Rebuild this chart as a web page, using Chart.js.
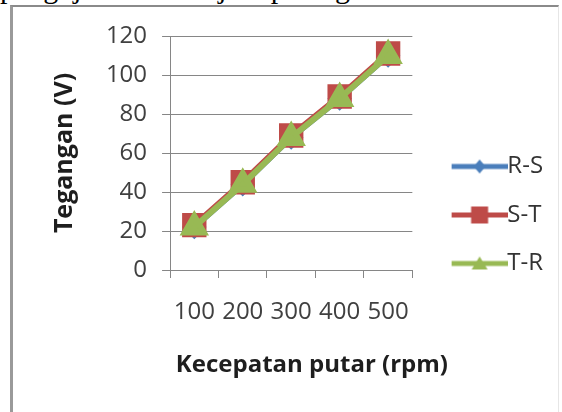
<!DOCTYPE html>
<html>
<head>
<meta charset="utf-8">
<script src="https://cdn.jsdelivr.net/npm/chart.js@4"></script>
<style>
  html, body { margin: 0; padding: 0; background: #fff; overflow: hidden; }
  #page { position: relative; width: 562px; height: 412px; overflow: hidden; }
  #textline { position: absolute; left: 0; top: -27px; font: 30px/30px "Liberation Serif", serif; white-space: nowrap; color: #000; }
  #frame { position: absolute; left: 10px; top: 5px; width: 545px; height: 420px;
           border-top: 2px solid #8a8a8a; border-left: 3px solid #9a9a9a; border-right: 1px solid #e6e6e6; }
  canvas { position: absolute; left: 0; top: 0; }
</style>
</head>
<body>
<div id="page">
  <div id="textline">pengujian terlihat jika pada grafik</div>
  <div id="frame"></div>
  <canvas id="grafik" width="562" height="420"></canvas>
</div>
<script>
// data
const rpm = ['100', '200', '300', '400', '500'];
const teganganRS = [22, 44, 68, 88, 110];
const teganganST = [23, 45, 69, 89, 111];
const teganganTR = [22, 44, 68, 88, 110];
const seriesNames = ['R-S', 'S-T', 'T-R'];

const yMin = 0, yMax = 120, yStep = 20;

const fontFamily = '"Open Sans", "Noto Sans", sans-serif';
const colors = ['#4a7ebb', '#be4b48', '#98b954'];
const markers = ['rectRot', 'rect', 'triangle'];

// gambar kecil untuk legend: garis + marker
function legendIcon(color, style) {
  const c = document.createElement('canvas');
  c.width = 83;
  c.height = 24;
  const g = c.getContext('2d');
  g.strokeStyle = color;
  g.fillStyle = color;
  g.lineWidth = 5;
  g.beginPath();
  g.moveTo(27, 12);
  g.lineTo(83, 12);
  g.stroke();
  const cx = 55, cy = 12;
  g.beginPath();
  if (style === 'rectRot') {
    g.moveTo(cx, cy - 7); g.lineTo(cx + 6, cy); g.lineTo(cx, cy + 7); g.lineTo(cx - 6, cy);
  } else if (style === 'rect') {
    g.rect(cx - 8.5, cy - 8.5, 17, 17);
  } else {
    g.moveTo(cx, cy - 7); g.lineTo(cx + 8, cy + 6); g.lineTo(cx - 8, cy + 6);
  }
  g.closePath();
  g.fill();
  return c;
}
const legendIcons = colors.map((c, i) => legendIcon(c, markers[i]));

const ctx = document.getElementById('grafik').getContext('2d');

new Chart(ctx, {
  type: 'line',
  data: {
    labels: rpm,
    datasets: [
      {
        label: seriesNames[0],
        data: teganganRS,
        borderColor: colors[0],
        backgroundColor: colors[0],
        borderWidth: 6,
        pointStyle: markers[0],
        pointRadius: 8,
        order: 3
      },
      {
        label: seriesNames[1],
        data: teganganST,
        borderColor: colors[1],
        backgroundColor: colors[1],
        borderWidth: 6,
        pointStyle: markers[1],
        pointRadius: 13,
        order: 2
      },
      {
        label: seriesNames[2],
        data: teganganTR,
        borderColor: colors[2],
        backgroundColor: colors[2],
        borderWidth: 6,
        pointStyle: markers[2],
        pointRadius: 11,
        order: 1
      }
    ]
  },
  options: {
    responsive: false,
    animation: false,
    devicePixelRatio: 1,
    layout: {
      padding: { left: 70.7, right: 8.9, top: 36, bottom: 26 }
    },
    elements: {
      line: { tension: 0 },
      point: { borderWidth: 1, hoverRadius: 10 }
    },
    scales: {
      x: {
        offset: true,
        grid: {
          offset: true,
          drawOnChartArea: false,
          drawTicks: true,
          tickLength: 8,
          color: '#868686'
        },
        border: { color: '#868686' },
        ticks: {
          color: '#404040',
          font: { family: fontFamily, size: 24 },
          padding: 20,
          maxRotation: 0,
          autoSkip: false
        }
      },
      y: {
        min: yMin,
        max: yMax,
        ticks: {
          stepSize: yStep,
          color: '#404040',
          font: { family: fontFamily, size: 24 },
          padding: 15
        },
        grid: {
          color: '#868686',
          drawTicks: true,
          tickLength: 8
        },
        border: { color: '#868686' },
        title: {
          display: true,
          text: 'Tegangan (V)',
          color: '#1e1e1e',
          font: { family: fontFamily, size: 25, weight: 'bold' },
          padding: { top: -20.7, bottom: 10.9 }
        }
      }
    },
    plugins: {
      tooltip: { enabled: false },
      // judul sumbu x dipasang sebagai judul bawah supaya letaknya di tengah seluruh grafik
      title: {
        display: true,
        position: 'bottom',
        text: 'Kecepatan putar (rpm)',
        color: '#1e1e1e',
        font: { family: fontFamily, size: 24, weight: 'bold' },
        padding: { top: 3.8, bottom: 14.6 }
      },
      legend: {
        position: 'right',
        maxWidth: 200,
        labels: {
          usePointStyle: true,
          pointStyleWidth: 58.5,
          padding: 24.5,
          color: '#333333',
          font: { family: fontFamily, size: 24 },
          sort: (a, b) => a.datasetIndex - b.datasetIndex,
          generateLabels: (chart) => {
            const items = Chart.defaults.plugins.legend.labels.generateLabels(chart);
            items.forEach(it => { it.pointStyle = legendIcons[it.datasetIndex]; });
            return items;
          }
        }
      }
    }
  }
});
</script>
</body>
</html>
